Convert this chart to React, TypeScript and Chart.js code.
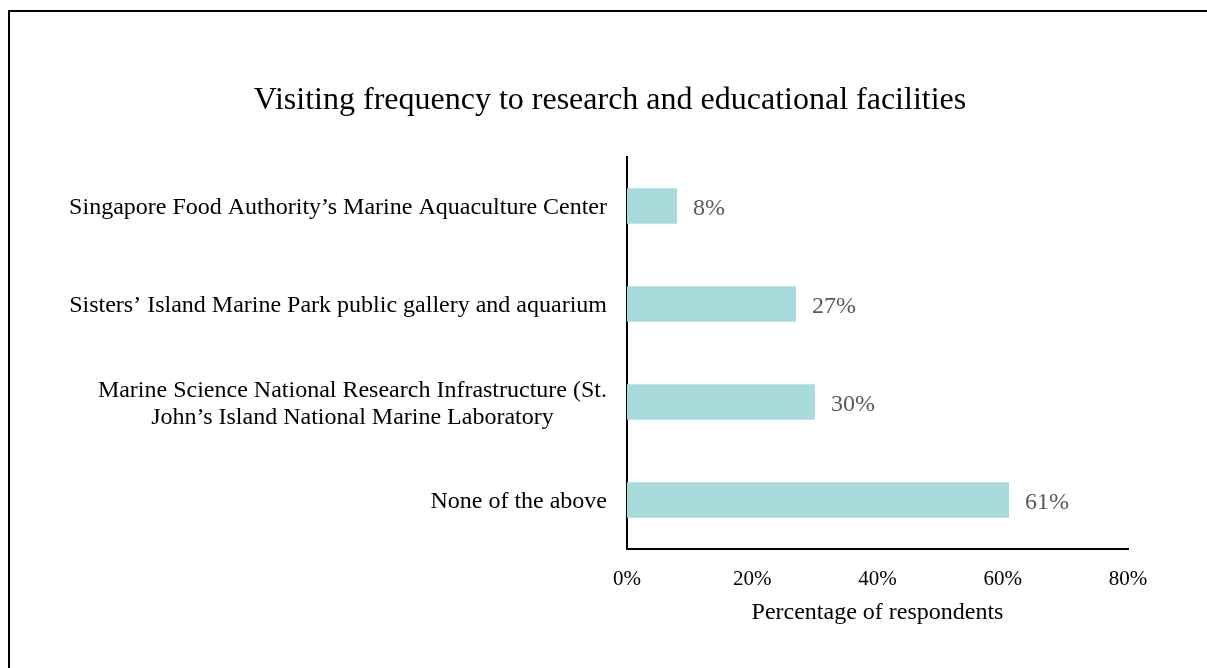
import React, { useEffect, useRef } from "react";
import { Chart, registerables } from "chart.js";

Chart.register(...registerables);

const categories: string[][] = [
  ["Singapore Food Authority’s Marine Aquaculture Center"],
  ["Sisters’ Island Marine Park public gallery and aquarium"],
  ["Marine Science National Research Infrastructure (St.", "John’s Island National Marine Laboratory"],
  ["None of the above"],
];
const values: number[] = [8, 27, 30, 61];
const xTicks: number[] = [0, 20, 40, 60, 80];
const titleText = "Visiting frequency to research and educational facilities";
const xAxisTitle = "Percentage of respondents";

const FONT = "'Liberation Serif', 'DejaVu Serif', serif";
const BAR_COLOR = "#a9dadc";

const customText = {
  id: "customText",
  afterDraw(chart: any) {
    const ctx = chart.ctx;
    const ys = chart.scales.y;
    const xs = chart.scales.x;
    ctx.save();
    ctx.textBaseline = "middle";
    // title
    ctx.font = `32px ${FONT}`;
    ctx.fillStyle = "#000";
    ctx.textAlign = "center";
    ctx.fillText(titleText, 610, 101);
    // category labels
    ctx.font = `24px ${FONT}`;
    categories.forEach((lines, i) => {
      const cy = ys.getPixelForValue(i) + 2;
      const w = Math.max(...lines.map((l) => ctx.measureText(l).width));
      const cx = chart.chartArea.left - 20 - w / 2;
      const lh = 27;
      lines.forEach((l, j) => {
        ctx.fillText(l, cx, cy + (j - (lines.length - 1) / 2) * lh);
      });
    });
    // value labels
    ctx.font = `24px ${FONT}`;
    ctx.fillStyle = "#595959";
    ctx.textAlign = "left";
    values.forEach((v, i) => {
      ctx.fillText(`${v}%`, xs.getPixelForValue(v) + 16, ys.getPixelForValue(i) + 3);
    });
    ctx.restore();
  },
};

export default function App() {
  const ref = useRef<HTMLCanvasElement | null>(null);
  useEffect(() => {
    if (!ref.current) return;
    const chart = new Chart(ref.current, {
      type: "bar",
      data: {
        labels: categories.map((c) => c.join(" ")),
        datasets: [
          {
            data: values,
            backgroundColor: BAR_COLOR,
            borderWidth: 0,
            barPercentage: 0.36,
            categoryPercentage: 1,
          },
        ],
      },
      options: {
        indexAxis: "y",
        animation: false,
        responsive: true,
        maintainAspectRatio: false,
        layout: { padding: { left: 0, right: 79, top: 157, bottom: 41 } },
        plugins: {
          legend: { display: false },
          tooltip: { enabled: false },
          title: { display: false },
        },
        scales: {
          x: {
            min: 0,
            max: 80,
            afterBuildTicks: (s: any) => {
              s.ticks = xTicks.map((v) => ({ value: v }));
            },
            afterFit: (s: any) => {
              s.height = 78;
            },
            grid: { display: false, drawTicks: false },
            border: { display: true, color: "#000", width: 2 },
            ticks: {
              padding: 18,
              color: "#000",
              font: { family: FONT, size: 21 },
              callback: (v: any) => `${v}%`,
            },
            title: {
              display: true,
              text: xAxisTitle,
              color: "#000",
              font: { family: FONT, size: 24 },
              padding: { top: 0, bottom: 0 },
            },
          },
          y: {
            afterFit: (s: any) => {
              s.width = 627;
            },
            grid: { display: false, drawTicks: false },
            border: { display: true, color: "#000", width: 2 },
            ticks: { display: false },
          },
        },
      },
      plugins: [customText],
    });
    return () => chart.destroy();
  }, []);

  return (
    <div style={{ position: "fixed", left: 0, top: 0, width: 1207, height: 668, overflow: "hidden", background: "#fff" }}>
      <div
        style={{
          position: "absolute",
          left: 8,
          top: 10,
          width: 1220,
          height: 680,
          border: "2px solid #000",
          boxSizing: "border-box",
        }}
      />
      <div style={{ position: "absolute", left: 0, top: 0, width: 1207, height: 668 }}>
        <canvas ref={ref} />
      </div>
    </div>
  );
}
